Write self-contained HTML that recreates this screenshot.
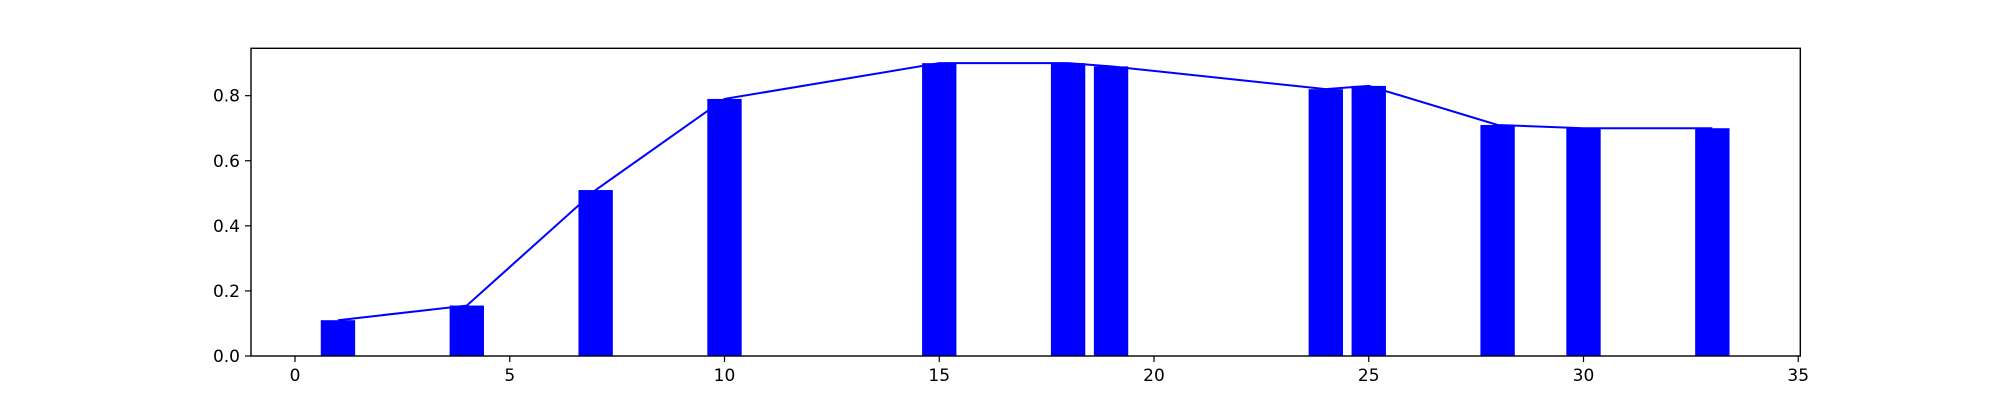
<!DOCTYPE html>
<html><head><meta charset="utf-8"><style>
body{margin:0;background:#fff}
svg{display:block}
text{font-family:"DejaVu Sans","Liberation Sans",sans-serif;font-size:17px;fill:#000}
</style></head><body>
<svg id="chart" width="2000" height="400">
<rect width="2000" height="400" fill="#fff"/>
<g id="bars"></g>
<g id="line"></g>
<rect x="251" y="48.3" width="1549.3" height="307.7" fill="none" stroke="#000" stroke-width="1.4"/>
<g id="xticks"></g>
<g id="yticks"></g>
</svg>
<script>
const categories=[1,4,7,10,15,18,19,24,25,28,30,33];
const values=[0.11,0.155,0.51,0.79,0.90,0.90,0.89,0.82,0.83,0.71,0.70,0.70];
const xTickLabels=[0,5,10,15,20,25,30,35];
const yTickLabels=["0.0","0.2","0.4","0.6","0.8"];
const yTickValues=[0,0.2,0.4,0.6,0.8];
const NS="http://www.w3.org/2000/svg";
function X(v){return 295+42.95*v;}
function Y(v){return 356-325.4*v;}
const bw=0.8;
const bars=document.getElementById('bars');
categories.forEach((c,i)=>{
 const r=document.createElementNS(NS,'rect');
 r.setAttribute('x',X(c-bw/2));r.setAttribute('y',Y(values[i]));
 r.setAttribute('width',X(c+bw/2)-X(c-bw/2));r.setAttribute('height',Y(0)-Y(values[i]));
 r.setAttribute('fill','#0000ff');
 
 
 bars.appendChild(r);
});
const pl=document.createElementNS(NS,'polyline');
pl.setAttribute('points',categories.map((c,i)=>X(c)+','+Y(values[i])).join(' '));
pl.setAttribute('fill','none');pl.setAttribute('stroke','#0000ff');pl.setAttribute('stroke-width','2');


document.getElementById('line').appendChild(pl);
const xt=document.getElementById('xticks');
xTickLabels.forEach(v=>{
 const l=document.createElementNS(NS,'line');
 l.setAttribute('x1',X(v));l.setAttribute('x2',X(v));l.setAttribute('y1',356);l.setAttribute('y2',362);
 l.setAttribute('stroke','#000');l.setAttribute('stroke-width','1.2');
 
 
 xt.appendChild(l);
 const t=document.createElementNS(NS,'text');
 t.setAttribute('x',X(v));t.setAttribute('y',381);t.setAttribute('text-anchor','middle');
 t.textContent=v;
 
 
 xt.appendChild(t);
});
const yt=document.getElementById('yticks');
yTickValues.forEach((v,i)=>{
 const l=document.createElementNS(NS,'line');
 l.setAttribute('x1',245);l.setAttribute('x2',251);l.setAttribute('y1',Y(v));l.setAttribute('y2',Y(v));
 l.setAttribute('stroke','#000');l.setAttribute('stroke-width','1.2');
 
 
 yt.appendChild(l);
 const t=document.createElementNS(NS,'text');
 t.setAttribute('x',240);t.setAttribute('y',Y(v)+6);t.setAttribute('text-anchor','end');
 t.textContent=yTickLabels[i];
 
 
 yt.appendChild(t);
});
</script>
</body></html>
